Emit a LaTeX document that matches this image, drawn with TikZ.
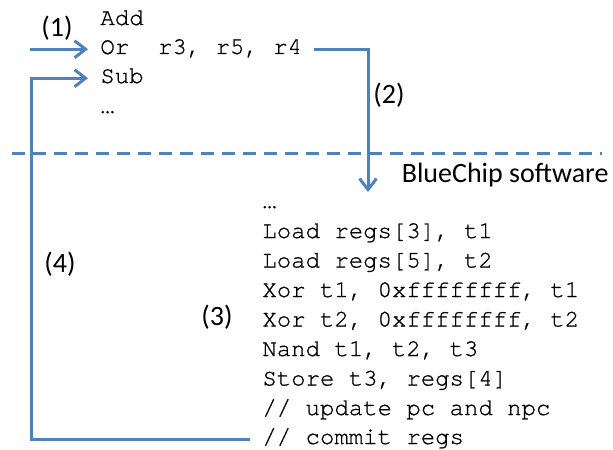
\documentclass[tikz,border=0pt]{standalone}
\usepackage{fontspec}
\setmainfont{Carlito}
\setmonofont[Ligatures=NoCommon,FakeBold=0.8]{TeX Gyre Cursor}
\usetikzlibrary{arrows.meta}
\definecolor{flowblue}{RGB}{79,129,189}

\begin{document}
\begin{tikzpicture}[x=0.5pt,y=0.5pt,yscale=-1,
  code/.style={anchor=base west,inner xsep=6pt,inner ysep=0pt,font=\fontsize{12}{14}\selectfont\ttfamily},
  lbl/.style={font=\fontsize{14}{16}\selectfont},
  flow/.style={draw=flowblue,line width=1.5pt,-{Straight Barb[length=5.5pt,width=8.5pt]}},
  divider/.style={draw=flowblue,line width=1.5pt,dash pattern=on 6.5pt off 4pt}]
\useasboundingbox (0,0) rectangle (613,449);
% guest instructions
\node[code] (add) at (88,25) {Add};
\node[code] (or) at (88,54) {Or~~r3, r5, r4};
\node[code] (sub) at (88,83) {Sub};
\node[code] (dotsa) at (88,113) {…};
% translated sequence
\node[code] (dotsb) at (250,208) {…};
\node[code] (ldc) at (250,238) {Load regs[3], t1};
\node[code] (ldf) at (250,267.5) {Load regs[5], t2};
\node[code] (xora) at (250,297) {Xor t1, 0xffffffff, t1};
\node[code] (xorb) at (250,326.5) {Xor t2, 0xffffffff, t2};
\node[code] (nand) at (250,356) {Nand t1, t2, t3};
\node[code] (store) at (250,385.5) {Store t3, regs[4]};
\node[code] (upd) at (250,415) {// update pc and npc};
\node[code] (commit) at (250,444) {// commit regs};
%Text
\node[lbl] (one) at (57,28) {(1)};
\node[lbl] (two) at (389,95) {(2)};
\node[lbl] (three) at (217,317) {(3)};
\node[lbl] (four) at (60,264) {(4)};
\node[lbl,anchor=east,inner xsep=0pt] (bluechip) at (609,175) {BlueChip software};
% connectors
\coordinate (s1) at (30,0);
\coordinate (d2) at (368,192);
\coordinate (c4) at (31,0);
\coordinate (dl) at (12,153);
\coordinate (dr) at (602,153);
\draw[divider] (dl) -- (dr);
\draw[flow] (s1 |- or.mid west) -- (or.mid west);
\draw[flow] (or.mid east) -| (d2);
\draw[flow] (commit.mid west) -| (c4 |- sub.mid west) -- (sub.mid west);
\end{tikzpicture}
\end{document}
